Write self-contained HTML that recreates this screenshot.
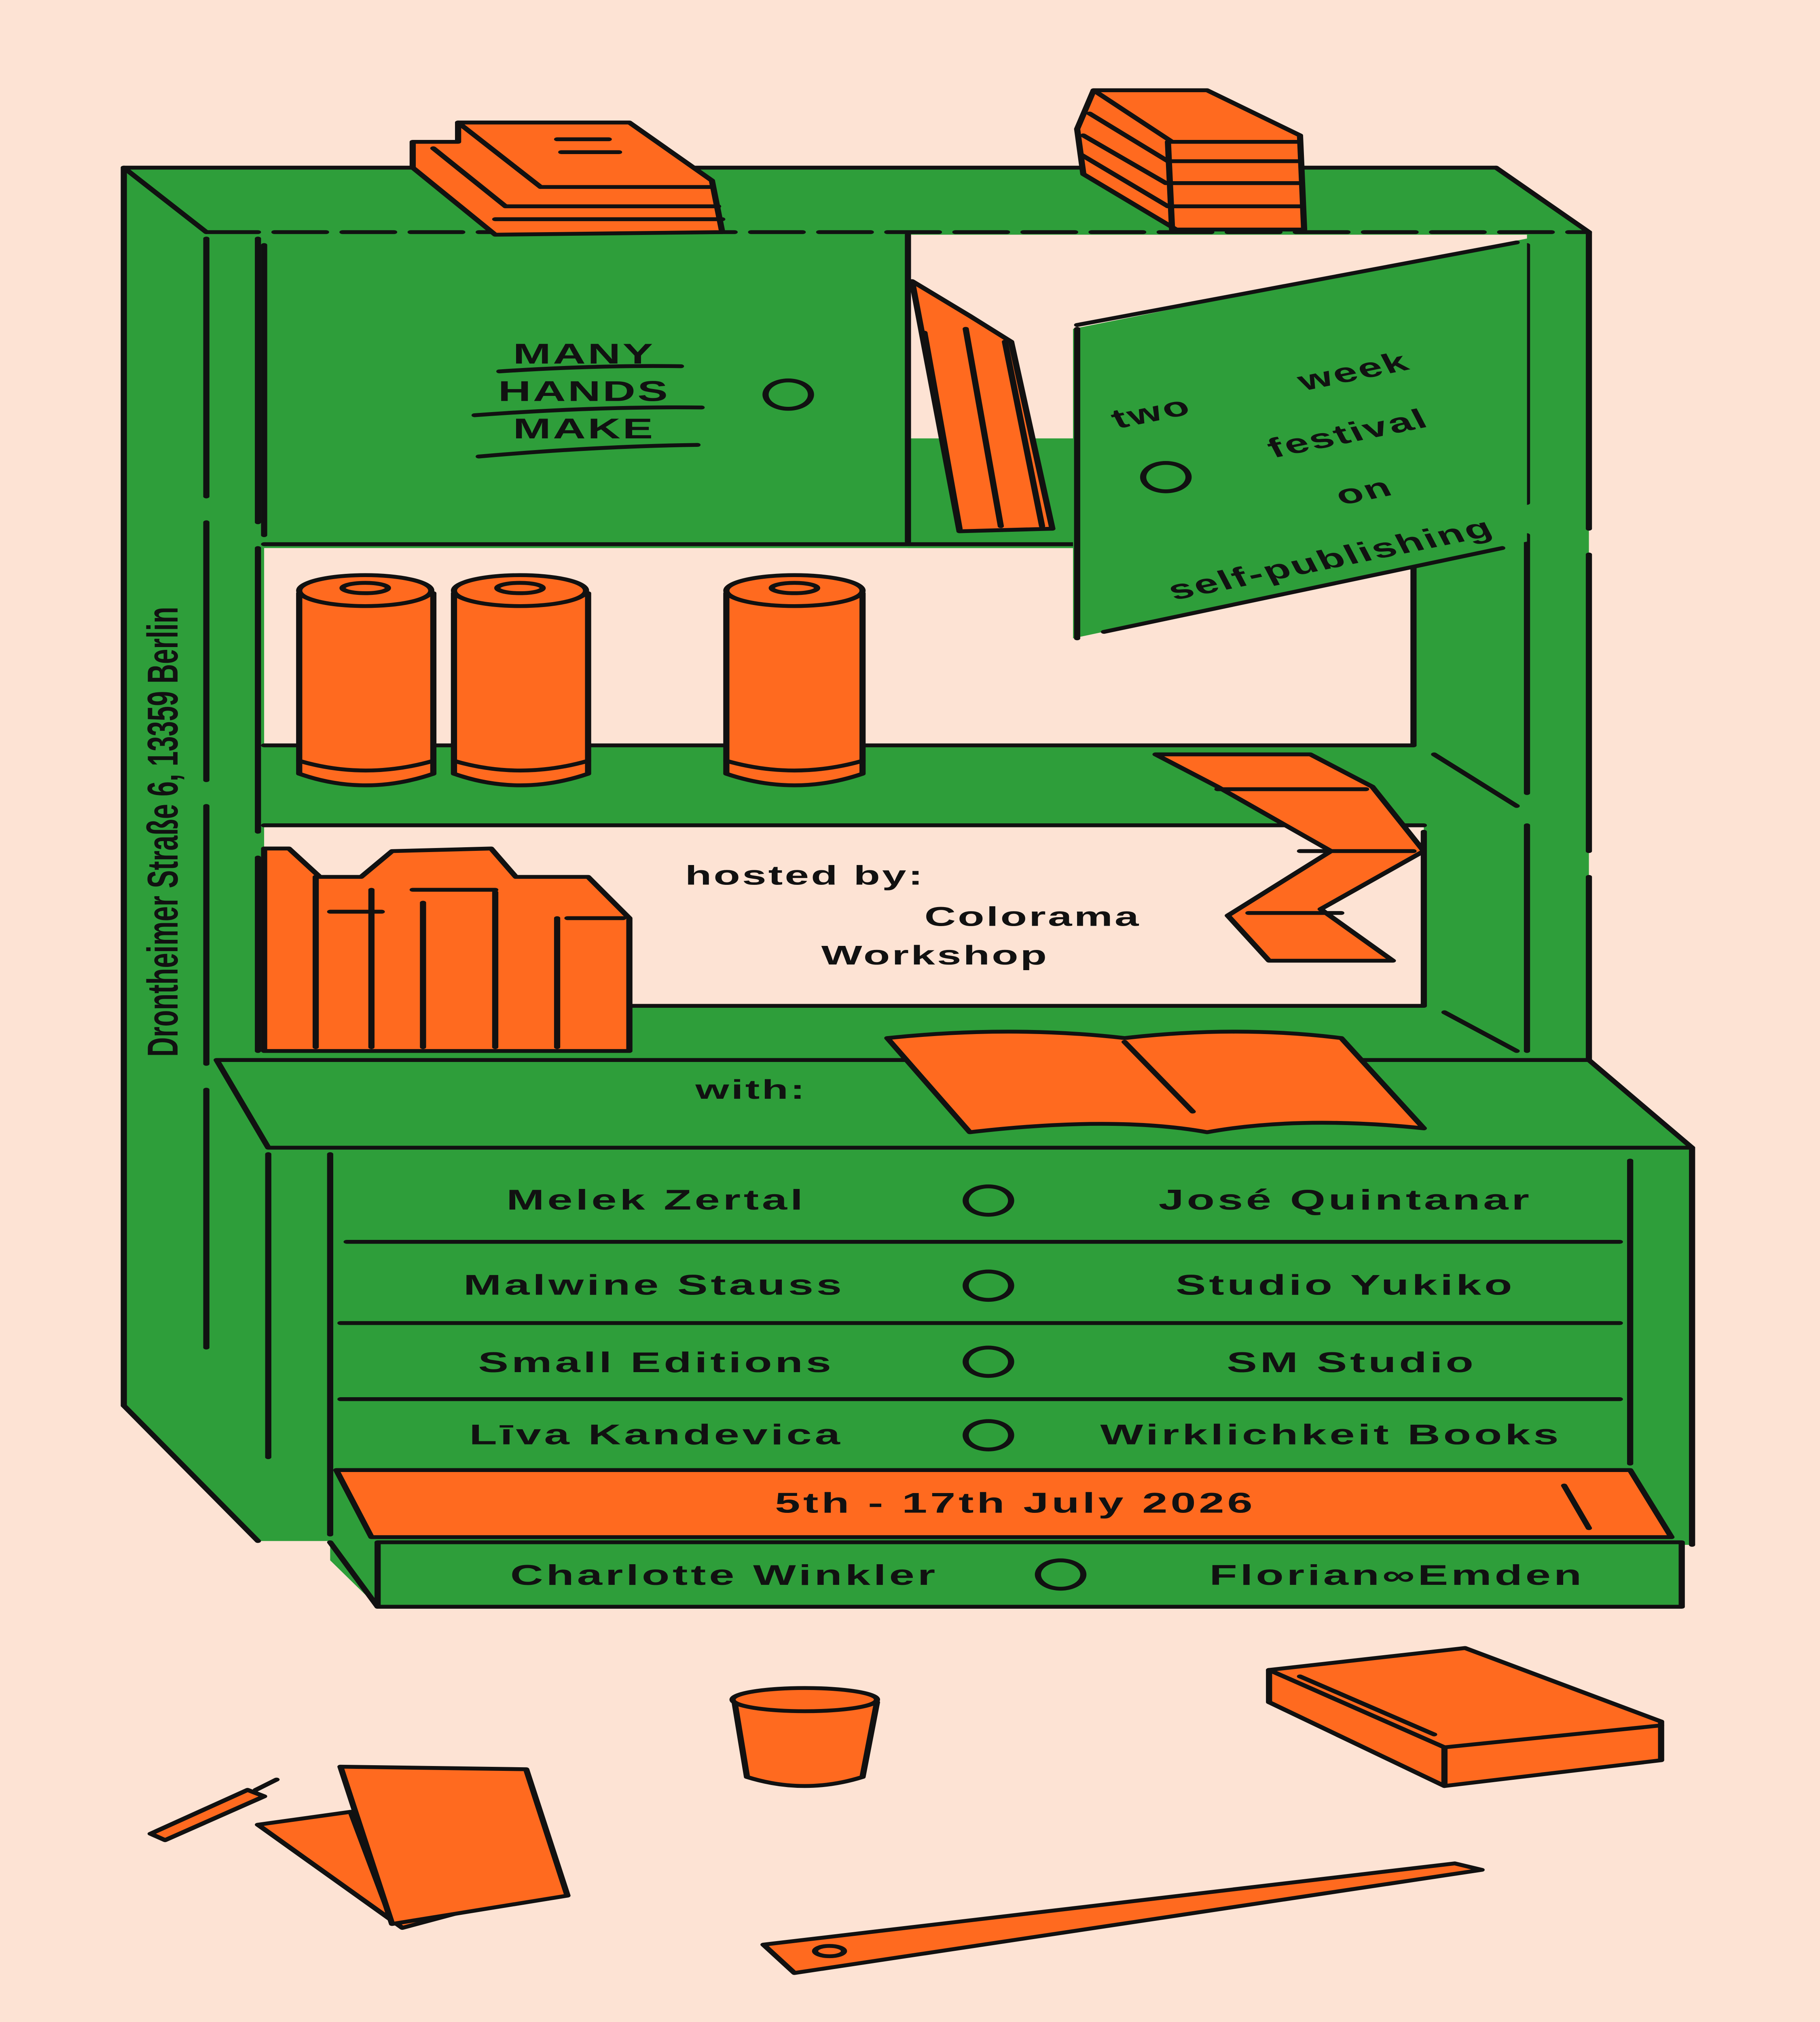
<!DOCTYPE html>
<html><head><meta charset="utf-8"><style>
html,body{margin:0;padding:0;background:#fde3d4;width:100%;height:100%;overflow:hidden;}
svg{display:block;width:100vw;height:100vh;}
text{font-family:"Liberation Sans","DejaVu Sans",sans-serif;font-weight:bold;fill:#111;}
</style></head><body>
<svg viewBox="0 0 882 1568" preserveAspectRatio="none" xmlns="http://www.w3.org/2000/svg">
<rect width="882" height="1568" fill="#fde3d4"/>
<g stroke="#111" stroke-width="3" stroke-linecap="round" stroke-linejoin="round">
<polygon points="60,130 725,130 770,180 770,825 820,890 820,1198 815,1198 815,1246 183,1246 160,1210 160,1195 125,1195 60,1090" fill="#2e9e3a" stroke="none"/>
<rect x="440" y="182" width="300" height="158" fill="#fde3d4" stroke="none"/>
<rect x="128" y="425" width="557" height="152" fill="#fde3d4" stroke="none"/>
<rect x="128" y="640" width="562" height="140" fill="#fde3d4" stroke="none"/>
<rect x="440" y="340" width="300" height="85" fill="#2e9e3a" stroke="none"/>
<line x1="60" y1="130" x2="725" y2="130"/>
<line x1="60" y1="130" x2="100" y2="180" />
<line x1="725" y1="130" x2="770" y2="180"/>
<line x1="100" y1="180" x2="770" y2="180" stroke-dasharray="25,8"/>
<line x1="60" y1="130" x2="60" y2="1090"/>
<line x1="60" y1="1090" x2="125" y2="1195"/>
<line x1="100" y1="185" x2="100" y2="1050" stroke-dasharray="200,20"/>
<line x1="125" y1="185" x2="125" y2="815" stroke-dasharray="220,20"/>
<line x1="770" y1="180" x2="770" y2="825" stroke-dasharray="230,20"/>
<line x1="740" y1="190" x2="740" y2="815" stroke-dasharray="200,25"/>
<line x1="440" y1="182" x2="440" y2="420"/>
<line x1="128" y1="422" x2="520" y2="422"/>
<line x1="128" y1="578" x2="685" y2="578"/>
<line x1="128" y1="640" x2="690" y2="640"/>
<line x1="685" y1="440" x2="685" y2="578"/>
<line x1="690" y1="645" x2="690" y2="780"/>
<line x1="128" y1="780" x2="690" y2="780"/>
<line x1="695" y1="585" x2="735" y2="625"/>
<line x1="700" y1="785" x2="735" y2="815"/>
<polygon points="105,822 770,822 820,890 130,890" fill="#2e9e3a"/>
<line x1="160" y1="895" x2="160" y2="1190"/>
<line x1="130" y1="895" x2="130" y2="1130"/>
<line x1="790" y1="900" x2="790" y2="1135"/>
<line x1="820" y1="890" x2="820" y2="1198"/>
<line x1="168" y1="963" x2="785" y2="963"/>
<line x1="165" y1="1026" x2="785" y2="1026"/>
<line x1="165" y1="1085" x2="785" y2="1085"/>
<polygon points="163,1140 790,1140 810,1192 180,1192" fill="#ff6a1f"/>
<line x1="758" y1="1152" x2="770" y2="1185"/>
<polygon points="183,1196 815,1196 815,1246 183,1246" fill="#2e9e3a"/>
<line x1="160" y1="1196" x2="183" y2="1246"/>
<line x1="128" y1="190" x2="128" y2="415"/>
<polygon points="520,255 740,185 740,420 520,495" fill="#2e9e3a" stroke="none"/>
<line x1="522" y1="252" x2="735" y2="188"/>
<line x1="522" y1="255" x2="522" y2="495"/>
<line x1="535" y1="490" x2="728" y2="425"/>
<circle cx="565" cy="370" r="11" fill="none"/>
<polygon points="442,218 470,245 490,265 510,410 465,412" fill="#ff6a1f"/>
<line x1="448" y1="258" x2="465" y2="410"/>
<line x1="468" y1="255" x2="485" y2="408"/>
<line x1="487" y1="265" x2="505" y2="408"/>
<circle cx="382" cy="306" r="11" fill="none"/>
<path d="M242 288 Q290 283 330 284" fill="none"/>
<path d="M230 322 Q290 315 340 316" fill="none"/>
<path d="M232 354 Q290 346 338 345" fill="none"/>
<polygon points="222,95 305,95 345,140 350,180 240,182 200,130 200,110 222,110" fill="#ff6a1f"/>
<line x1="222" y1="95" x2="262" y2="145"/>
<line x1="262" y1="145" x2="345" y2="145"/>
<line x1="210" y1="115" x2="245" y2="160"/>
<line x1="245" y1="160" x2="348" y2="160"/>
<line x1="240" y1="170" x2="350" y2="170"/>
<line x1="270" y1="108" x2="295" y2="108"/>
<line x1="272" y1="118" x2="300" y2="118"/>
<polygon points="530,70 585,70 630,105 632,178 570,178 525,135 522,100" fill="#ff6a1f"/>
<line x1="530" y1="70" x2="568" y2="110"/><line x1="568" y1="110" x2="630" y2="110"/>
<line x1="528" y1="88" x2="566" y2="125"/><line x1="566" y1="125" x2="630" y2="125"/>
<line x1="525" y1="105" x2="565" y2="142"/><line x1="565" y1="142" x2="630" y2="142"/>
<line x1="524" y1="120" x2="566" y2="160"/><line x1="566" y1="160" x2="630" y2="160"/>
<line x1="566" y1="110" x2="568" y2="178"/>
<g fill="#ff6a1f">
<path d="M145 460 L145 600 Q177 618 210 600 L210 460 Z"/>
<ellipse cx="177" cy="458" rx="32" ry="12"/><ellipse cx="177" cy="456" rx="11" ry="4"/>
<path d="M145 590 Q177 605 210 590" fill="none"/>
<path d="M220 460 L220 600 Q252 618 285 600 L285 460 Z"/>
<ellipse cx="252" cy="458" rx="32" ry="12"/><ellipse cx="252" cy="456" rx="11" ry="4"/>
<path d="M220 590 Q252 605 285 590" fill="none"/>
<path d="M352 460 L352 600 Q385 618 418 600 L418 460 Z"/>
<ellipse cx="385" cy="458" rx="33" ry="12"/><ellipse cx="385" cy="456" rx="11" ry="4"/>
<path d="M352 590 Q385 605 418 590" fill="none"/>
</g>
<polygon points="560,585 635,585 665,610 690,660 640,705 675,745 615,745 595,710 645,660 590,610" fill="#ff6a1f"/>
<line x1="590" y1="612" x2="662" y2="612"/>
<line x1="630" y1="660" x2="685" y2="660"/>
<line x1="605" y1="708" x2="650" y2="708"/>
<polygon points="128,658 140,658 155,680 175,680 190,660 238,658 250,680 285,680 305,712 305,815 128,815" fill="#ff6a1f"/>
<line x1="153" y1="680" x2="153" y2="812"/>
<line x1="180" y1="690" x2="180" y2="812"/>
<line x1="205" y1="700" x2="205" y2="812"/>
<line x1="240" y1="692" x2="240" y2="812"/>
<line x1="270" y1="712" x2="270" y2="812"/>
<line x1="160" y1="707" x2="185" y2="707"/>
<line x1="200" y1="690" x2="240" y2="690"/>
<line x1="275" y1="712" x2="302" y2="712"/>
<path d="M430 805 Q490 795 545 805 Q600 795 650 805 L690 875 Q630 865 585 878 Q540 865 470 878 Z" fill="#ff6a1f"/>
<line x1="545" y1="808" x2="578" y2="862"/>
<g fill="none"><circle cx="479" cy="931" r="11"/><circle cx="479" cy="997" r="11"/><circle cx="479" cy="1056" r="11"/><circle cx="479" cy="1113" r="11"/><circle cx="514" cy="1221" r="11"/></g>
<path d="M356 1320 L362 1378 Q390 1392 418 1378 L425 1320 Z" fill="#ff6a1f"/>
<ellipse cx="390" cy="1318" rx="35" ry="9" fill="#ff6a1f"/>
<polygon points="615,1295 710,1278 805,1335 805,1365 700,1385 615,1320" fill="#ff6a1f"/>
<line x1="615" y1="1295" x2="700" y2="1355"/>
<line x1="700" y1="1355" x2="805" y2="1338"/>
<line x1="700" y1="1355" x2="700" y2="1385"/>
<line x1="630" y1="1300" x2="695" y2="1345"/>
<polygon points="125,1415 170,1405 190,1490 230,1480 195,1495" fill="#ff6a1f"/>
<polygon points="165,1370 255,1372 275,1470 190,1492" fill="#ff6a1f"/>
<polygon points="73,1422 120,1388 128,1393 80,1427" fill="#ff6a1f"/>
<line x1="124" y1="1388" x2="134" y2="1380"/>
<polygon points="370,1508 705,1445 718,1450 385,1530" fill="#ff6a1f"/>
<ellipse cx="402" cy="1513" rx="7" ry="4" fill="none"/>
</g>
<text x="283" y="282" font-size="22" text-anchor="middle" letter-spacing="1">MANY</text>
<text x="283" y="311" font-size="22" text-anchor="middle" letter-spacing="1">HANDS</text>
<text x="283" y="340" font-size="22" text-anchor="middle" letter-spacing="1">MAKE</text>
<g font-size="21" letter-spacing="1" transform="rotate(-18 630 330)">
<text x="545" y="305">two</text><text x="640" y="305">week</text>
<text x="610" y="350">festival</text><text x="630" y="395">on</text>
<text x="530" y="440">self-publishing</text></g>
<text transform="translate(86 645) rotate(-90)" font-size="21" text-anchor="middle">Drontheimer Straße 6, 13359 Berlin</text>
<text x="332" y="686" font-size="21" letter-spacing="1">hosted by:</text>
<text x="448" y="718" font-size="21" letter-spacing="1">Colorama</text>
<text x="398" y="748" font-size="21" letter-spacing="1">Workshop</text>
<text x="337" y="852" font-size="21" letter-spacing="1">with:</text>
<g font-size="22" letter-spacing="1.5" text-anchor="middle">
<text x="318" y="938">Melek Zertal</text><text x="652" y="938">José Quintanar</text>
<text x="317" y="1004">Malwine Stauss</text><text x="652" y="1004">Studio Yukiko</text>
<text x="318" y="1064">Small Editions</text><text x="655" y="1064">SM Studio</text>
<text x="318" y="1120">Līva Kandevica</text><text x="645" y="1120">Wirklichkeit Books</text>
<text x="492" y="1173">5th - 17th July 2026</text>
<text x="351" y="1229">Charlotte Winkler</text><text x="677" y="1229">Florian∞Emden</text>
</g>
</svg>
</body></html>
